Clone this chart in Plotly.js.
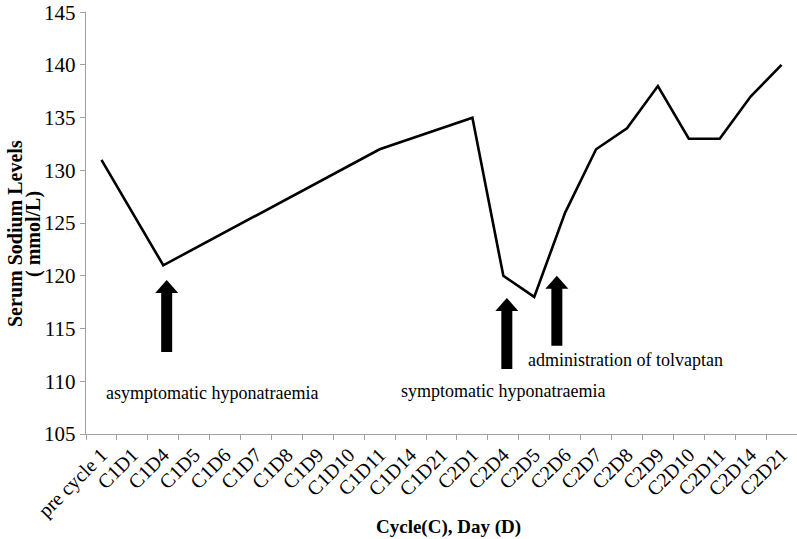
<!DOCTYPE html>
<html>
<head>
<meta charset="utf-8">
<script src="https://cdn.plot.ly/plotly-3.0.1.min.js"></script>
<style>html,body{margin:0;padding:0;background:#fff;}#chart{width:797px;height:539px;}</style>
</head>
<body>
<div id="chart"></div>
<script>
// Categories (Cycle C, Day D)
const categories = ["pre cycle 1","C1D1","C1D4","C1D5","C1D6","C1D7","C1D8","C1D9","C1D10","C1D11","C1D14","C1D21",
  "C2D1","C2D4","C2D5","C2D6","C2D7","C2D8","C2D9","C2D10","C2D11","C2D14","C2D21"];
// Serum sodium (mmol/L); null = no measurement (line connects across)
const sodium = [131, null, 121, null, null, null, null, null, null, 132, 133, 134,
  135, 120, 118, 126, 132, 134, 138, 133, 133, 137, 140];
const yTicks = [105,110,115,120,125,130,135,140,145];
const noteTexts = ["asymptomatic hyponatraemia", "symptomatic hyponatraemia", "administration of tolvaptan"];
const xTitle = "Cycle(C), Day (D)";
const yTitleLines = ["Serum Sodium Levels", "( mmol/L)"];

const serif = "'Liberation Serif', 'Times New Roman', serif";
const axisGrey = "#a0a0a0";

const trace = {
  x: categories, y: sodium, type: "scatter", mode: "lines",
  connectgaps: true,
  line: {color: "#000", width: 2.6},
  hoverinfo: "skip", showlegend: false
};

function upArrow(cat, tipVal, dx, len) {
  const p = [[0,0],[11.5,-13],[5.5,-13],[5.5,-len],[-5.5,-len],[-5.5,-13],[-11.5,-13]]
    .map((q,i)=> (i?"L":"M") + (q[0]+dx) + "," + q[1]).join(" ") + " Z";
  return {type:"path", xref:"x", yref:"y", xsizemode:"pixel", ysizemode:"pixel",
    xanchor: cat, yanchor: tipVal, path: p,
    fillcolor:"#000", line:{color:"#000", width:0}};
}

const TOP = 12, BOTTOM_EDGE = 434;
const plotH = BOTTOM_EDGE - TOP;
const noteFont = {family: serif, size: 18, color: "#000"};

const layout = {
  width: 797, height: 539,
  margin: {l: 86, r: 0, t: TOP, b: 539 - BOTTOM_EDGE},
  paper_bgcolor: "#fff", plot_bgcolor: "#fff",
  font: {family: serif, color: "#000"},
  xaxis: {
    type: "category", tickson: "boundaries", range: [-0.5, 22.5],
    showgrid: false, zeroline: false,
    showline: true, linecolor: axisGrey, linewidth: 1.3,
    ticks: "outside", ticklen: 5, tickcolor: axisGrey, tickwidth: 1,
    tickangle: -45, tickfont: {family: serif, size: 20, color: "#000"},
    fixedrange: true
  },
  yaxis: {
    range: [105, 145.02], tickvals: yTicks, ticktext: yTicks.map(String),
    ticklabeloverflow: "allow",
    showgrid: false, zeroline: false,
    showline: true, linecolor: axisGrey, linewidth: 1.3,
    ticks: "outside", ticklen: 5, tickcolor: axisGrey, tickwidth: 1,
    tickfont: {family: serif, size: 21, color: "#000"},
    fixedrange: true
  },
  shapes: [
    upArrow("C1D4", 119.6, 3.4, 72),
    upArrow("C2D4", 117.9, 3.5, 71),
    upArrow("C2D6", 120.0, -8.3, 70)
  ],
  annotations: [
    {text: noteTexts[0], xref:"paper", yref:"y", x: (104-86)/711, y: 108.9, xanchor:"left", yanchor:"middle", showarrow:false, font: noteFont},
    {text: noteTexts[1], xref:"paper", yref:"y", x: (399-86)/711, y: 109.1, xanchor:"left", yanchor:"middle", showarrow:false, font: noteFont},
    {text: noteTexts[2], xref:"paper", yref:"y", x: (526-86)/711, y: 112.0, xanchor:"left", yanchor:"middle", showarrow:false, font: noteFont},
    {text: "<b>" + xTitle + "</b>", xref:"paper", yref:"paper", x: (448-86)/711, y: (BOTTOM_EDGE-527)/plotH, xanchor:"center", yanchor:"middle", showarrow:false, font:{family:serif, size:19, color:"#000"}},
    {text: "<b>" + yTitleLines[0] + "</b>", xref:"paper", yref:"paper", x: (15-86)/711, y: (BOTTOM_EDGE-234)/plotH, xanchor:"center", yanchor:"middle", textangle:-90, showarrow:false, font:{family:serif, size:20, color:"#000"}},
    {text: "<b>" + yTitleLines[1] + "</b>", xref:"paper", yref:"paper", x: (33-86)/711, y: (BOTTOM_EDGE-234)/plotH, xanchor:"center", yanchor:"middle", textangle:-90, showarrow:false, font:{family:serif, size:20, color:"#000"}}
  ]
};

Plotly.newPlot("chart", [trace], layout, {displayModeBar: false, staticPlot: true});
</script>
</body>
</html>
